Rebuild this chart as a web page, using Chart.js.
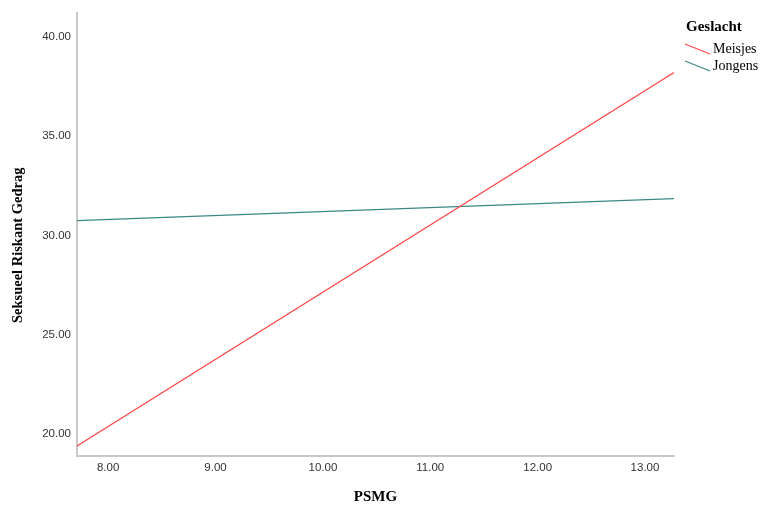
<!DOCTYPE html>
<html>
<head>
<meta charset="utf-8">
<script src="https://cdn.jsdelivr.net/npm/chart.js@4"></script>
<style>
html,body{margin:0;padding:0;background:#fff;}
#wrap{width:765px;height:509px;position:relative;}
</style>
</head>
<body>
<div id="wrap"><canvas id="c"></canvas></div>
<script>
const xEnds = [7.71, 13.27];
const meisjes = [19.4, 38.2];
const jongens = [30.75, 31.85];
const xTicks = [8, 9, 10, 11, 12, 13];
const yTicks = [20, 25, 30, 35, 40];
const seriesNames = ['Meisjes', 'Jongens'];
const legendTitle = 'Geslacht';
const xTitle = 'PSMG';
const yTitle = 'Seksueel Riskant Gedrag';
const colors = ['#ff4848', '#3a8985'];

const toPts = vals => xEnds.map((x, i) => ({x: x, y: vals[i]}));

const legendPlugin = {
  id: 'customLegend',
  afterDraw(chart) {
    const ctx = chart.ctx;
    ctx.save();
    ctx.fillStyle = '#000';
    ctx.font = 'bold 15px "Liberation Serif"';
    ctx.textAlign = 'left';
    ctx.textBaseline = 'middle';
    ctx.fillText(legendTitle, 686, 27);
    ctx.font = '14px "Liberation Serif"';
    chart.data.datasets.forEach((ds, i) => {
      const y0 = 44 + i * 17;
      ctx.strokeStyle = ds.borderColor;
      ctx.lineWidth = 1.3;
      ctx.beginPath();
      ctx.moveTo(685, y0);
      ctx.lineTo(710, y0 + 10);
      ctx.stroke();
      ctx.fillStyle = '#000';
      ctx.fillText(ds.label, 713, y0 + 5);
    });
    ctx.restore();
  }
};

new Chart(document.getElementById('c'), {
  type: 'scatter',
  data: {
    datasets: [
      {label: seriesNames[0], data: toPts(meisjes), borderColor: colors[0], backgroundColor: colors[0], showLine: true, pointRadius: 0, borderWidth: 1.3},
      {label: seriesNames[1], data: toPts(jongens), borderColor: colors[1], backgroundColor: colors[1], showLine: true, pointRadius: 0, borderWidth: 1.3}
    ]
  },
  options: {
    responsive: true,
    maintainAspectRatio: false,
    animation: false,
    layout: {padding: {top: 10, right: 91, left: 0, bottom: 0}},
    plugins: {legend: {display: false}, tooltip: {enabled: false}},
    scales: {
      x: {
        type: 'linear',
        min: 7.71, max: 13.27,
        afterBuildTicks: s => { s.ticks = xTicks.map(v => ({value: v})); },
        afterFit: s => { s.height = 53; },
        grid: {display: false, drawTicks: false},
        border: {display: true, color: '#c8c8c8', width: 2},
        ticks: {color: '#333', font: {family: 'Arial, "Liberation Sans"', size: 11.5}, padding: 5, maxRotation: 0,
          callback: v => v.toFixed(2)},
        title: {display: true, text: xTitle, color: '#000', font: {family: '"Liberation Serif"', size: 15, weight: 'bold'}, padding: {top: 14, bottom: 3}}
      },
      y: {
        type: 'linear',
        min: 18.9, max: 41.2,
        afterBuildTicks: s => { s.ticks = yTicks.map(v => ({value: v})); },
        afterFit: s => { s.width = 77; },
        grid: {display: false, drawTicks: false},
        border: {display: true, color: '#c8c8c8', width: 2},
        ticks: {color: '#333', font: {family: 'Arial, "Liberation Sans"', size: 11.5}, padding: 6,
          callback: v => v.toFixed(2)},
        title: {display: true, text: yTitle + '      ', color: '#000', font: {family: '"Liberation Serif"', size: 14.5, weight: 'bold'}, padding: {top: 10, bottom: 4}}
      }
    }
  },
  plugins: [legendPlugin]
});
</script>
</body>
</html>
